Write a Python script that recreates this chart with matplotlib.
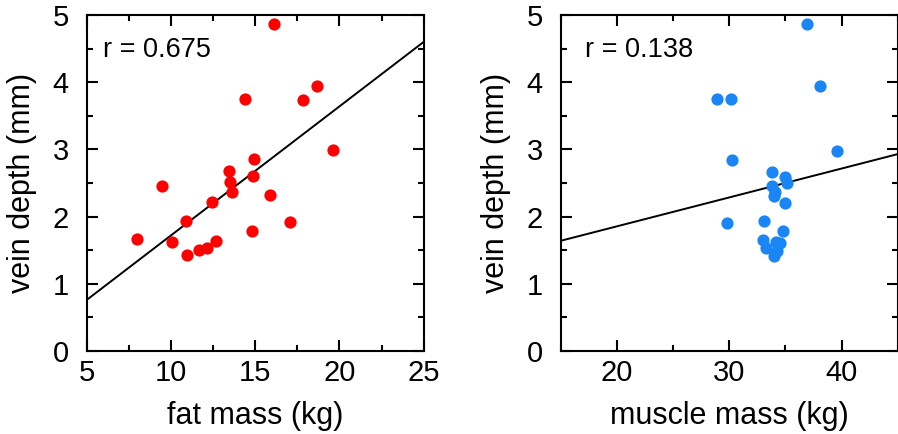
import matplotlib
matplotlib.use("Agg")
import matplotlib.pyplot as plt
import numpy as np

plt.rcParams['font.family'] = ['Liberation Sans', 'DejaVu Sans']

# fat mass panel
fat_mass = [16.13, 9.49, 14.41, 17.83, 18.68, 19.62, 14.90, 13.42, 13.51, 14.88, 13.61,
            15.87, 12.41, 10.88, 7.99, 10.09, 10.98, 11.69, 12.13, 12.68, 14.80, 17.08]
fat_depth = [4.87, 2.45, 3.745, 3.74, 3.95, 2.99, 2.85, 2.68, 2.51, 2.60, 2.36,
             2.32, 2.21, 1.94, 1.66, 1.62, 1.43, 1.51, 1.54, 1.63, 1.79, 1.92]
fat_fit = (0.192, -0.20)   # slope, intercept
fat_r = "r = 0.675"

# muscle mass panel
muscle_mass = [36.96, 38.06, 28.89, 30.14, 39.63, 30.25, 33.84, 34.95, 35.15, 33.82, 34.11,
               33.97, 34.95, 29.78, 33.13, 34.82, 32.98, 33.28, 34.17, 34.56, 34.23, 33.97]
muscle_depth = [4.87, 3.95, 3.745, 3.745, 2.98, 2.84, 2.67, 2.59, 2.50, 2.45, 2.37,
                2.31, 2.20, 1.91, 1.93, 1.78, 1.65, 1.53, 1.62, 1.61, 1.49, 1.42]
muscle_fit = (0.043, 0.995)
muscle_r = "r = 0.138"

W, H = 898, 434
fig = plt.figure(figsize=(W / 100, H / 100), dpi=100)

panels = [
    dict(x=fat_mass, y=fat_depth, fit=fat_fit, r=fat_r, color="#ff0000",
         xlim=(5, 25), xmaj=5, xmin=2.5, xlabel="fat mass (kg)", left=86.7, rx=0.048),
    dict(x=muscle_mass, y=muscle_depth, fit=muscle_fit, r=muscle_r, color="#1a86f5",
         xlim=(15, 45), xmaj=10, xmin=5, xlabel="muscle mass (kg)", left=560.7, rx=0.071),
]

for p in panels:
    ax = fig.add_axes([p["left"] / W, (H - 351) / H, 337 / W, 336 / H])
    ax.plot(p["x"], p["y"], "o", color=p["color"], markersize=8.8, markeredgewidth=0,
            zorder=3, clip_on=False)
    xs = np.array(p["xlim"])
    ax.plot(xs, p["fit"][0] * xs + p["fit"][1], color="black", lw=1.4)
    ax.set_xlim(*p["xlim"])
    ax.set_ylim(0, 5)
    ax.xaxis.set_major_locator(plt.MultipleLocator(p["xmaj"]))
    ax.xaxis.set_minor_locator(plt.MultipleLocator(p["xmin"]))
    ax.yaxis.set_major_locator(plt.MultipleLocator(1))
    ax.yaxis.set_minor_locator(plt.MultipleLocator(0.5))
    ax.tick_params(which="both", direction="in", top=True, right=True, width=1.5,
                   labelsize=21)
    ax.tick_params(which="major", length=8)
    ax.tick_params(which="minor", length=4)
    ax.tick_params(axis="y", pad=13)
    ax.tick_params(axis="x", pad=6)
    for s in ax.spines.values():
        s.set_linewidth(1.5)
    ax.set_xlabel(p["xlabel"], fontsize=22, labelpad=10)
    ax.set_ylabel("vein depth (mm)", fontsize=22, labelpad=11)
    ax.text(p["rx"], 0.897, p["r"], transform=ax.transAxes, fontsize=19.5, va="center")

fig.savefig("out.png", dpi=100)
